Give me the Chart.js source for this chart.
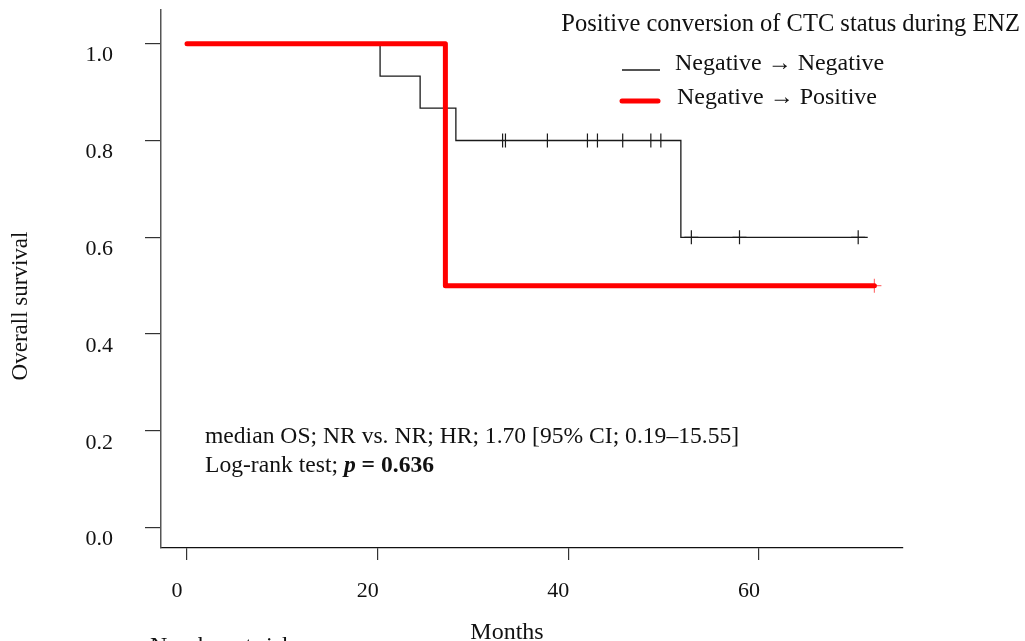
<!DOCTYPE html>
<html>
<head>
<meta charset="utf-8">
<script src="https://cdn.jsdelivr.net/npm/chart.js@4"></script>
<style>
  html, body { margin: 0; padding: 0; background: #fff; }
</style>
</head>
<body>
<canvas id="myChart" width="1025" height="641"></canvas>
<script>
// KM step points (months, survival)
const negMonths = [0, 20.25, 24.45, 28.2, 51.8, 71.4];
const negSurv = [1, 0.933, 0.867, 0.8, 0.6, 0.6];
const posMonths = [0, 27.1, 72.1];
const posSurv = [1, 0.5, 0.5];

// censored observations
const negCensorMonths = [33.1, 33.4, 37.8, 42.0, 43.05, 45.7, 48.65, 49.7, 52.9, 57.95, 70.4];
const negCensorSurv = [0.8, 0.8, 0.8, 0.8, 0.8, 0.8, 0.8, 0.8, 0.6, 0.6, 0.6];
const posCensorMonths = [72.1];
const posCensorSurv = [0.5];

const xTicks = [0, 20, 40, 60];
const yTicks = [0, 0.2, 0.4, 0.6, 0.8, 1.0];

const seriesLabels = ["Negative \u2192 Negative", "Negative \u2192 Positive"];
const legendTitle = "Positive conversion of CTC status during ENZ";
const noteLine1 = "median OS; NR vs. NR; HR; 1.70 [95% CI; 0.19\u201315.55]";
const noteLine2 = ["Log-rank test; ", "p", " = 0.636"];

const FONT = "'Liberation Serif', 'Times New Roman', serif";
const TEXT = "#111";

function pts(xs, ys) {
  return xs.map((x, i) => ({ x: x, y: ys[i] }));
}

let ctx = document.getElementById("myChart");

const extras = {
  id: "extras",
  afterDraw(chart) {
    const c = chart.ctx;
    c.save();
    c.fillStyle = TEXT;
    c.textBaseline = "middle";

    // legend
    c.font = "24.5px " + FONT;
    c.textAlign = "right";
    c.fillText(legendTitle, 1020, 25);
    c.textAlign = "left";

    c.font = "24px " + FONT;
    c.strokeStyle = chart.data.datasets[0].borderColor;
    c.lineWidth = 1.3;
    c.beginPath();
    c.moveTo(622, 70);
    c.lineTo(660, 70);
    c.stroke();
    c.fillText(seriesLabels[0], 675, 64);

    c.strokeStyle = chart.data.datasets[1].borderColor;
    c.lineWidth = 5;
    c.lineCap = "round";
    c.beginPath();
    c.moveTo(622, 101);
    c.lineTo(658, 101);
    c.stroke();
    c.fillText(seriesLabels[1], 677, 98);

    // notes
    c.font = "23.6px " + FONT;
    c.fillText(noteLine1, 205, 437);
    let x = 205;
    c.fillText(noteLine2[0], x, 466);
    x += c.measureText(noteLine2[0]).width;
    c.font = "italic bold 23.6px " + FONT;
    c.fillText(noteLine2[1], x, 466);
    x += c.measureText(noteLine2[1]).width;
    c.font = "bold 23.6px " + FONT;
    c.fillText(noteLine2[2], x, 466);

    // axis titles
    c.font = "24px " + FONT;
    c.textAlign = "center";
    c.fillText("Months", 507, 633);
    c.textAlign = "left";
    c.textBaseline = "top";
    c.fillText("Number at risk", 150, 635);

    c.font = "23px " + FONT;
    c.translate(21, 306);
    c.rotate(-Math.PI / 2);
    c.textAlign = "center";
    c.textBaseline = "middle";
    c.fillText("Overall survival", 0, 0);
    c.restore();
  }
};

let myChart = new Chart(ctx, {
  type: "scatter",
  data: {
    datasets: [
      {
        label: seriesLabels[0],
        data: pts(negMonths, negSurv),
        showLine: true,
        stepped: true,
        borderColor: "#1a1a1a",
        borderWidth: 1.3,
        pointRadius: 0,
        order: 2,
      },
      {
        label: seriesLabels[1],
        data: pts(posMonths, posSurv),
        showLine: true,
        stepped: true,
        borderColor: "#ff0000",
        borderWidth: 5,
        borderCapStyle: "round",
        borderJoinStyle: "round",
        pointRadius: 0,
        order: 0,
      },
      {
        label: "censored",
        data: pts(negCensorMonths, negCensorSurv),
        showLine: false,
        pointStyle: "cross",
        pointRadius: 7,
        borderColor: "#1a1a1a",
        borderWidth: 1.2,
        order: 1,
      },
      {
        label: "censored",
        data: pts(posCensorMonths, posCensorSurv),
        showLine: false,
        pointStyle: "cross",
        pointRadius: 7,
        borderColor: "rgba(255,60,60,0.7)",
        borderWidth: 1.2,
        order: 0,
      },
    ],
  },
  options: {
    responsive: false,
    animation: false,
    layout: { padding: { top: 10, right: 122, left: 0, bottom: 0 } },
    plugins: {
      legend: { display: false },
      tooltip: { enabled: false },
    },
    scales: {
      x: {
        type: "linear",
        min: -2.73,
        max: 75.1,
        afterBuildTicks: (s) => { s.ticks = xTicks.map((v) => ({ value: v })); },
        afterFit: (s) => { s.height = 93; s.paddingLeft = 0; s.paddingRight = 0; },
        grid: { drawOnChartArea: false, drawTicks: true, tickLength: 12, color: "#333", lineWidth: 1.2 },
        border: { display: true, color: "#111", width: 1.3 },
        ticks: {
          padding: 18,
          labelOffset: -10,
          maxRotation: 0,
          color: TEXT,
          font: { family: FONT, size: 22 },
        },
      },
      y: {
        type: "linear",
        min: -0.042,
        max: 1.0696,
        afterBuildTicks: (s) => { s.ticks = yTicks.map((v) => ({ value: v })); },
        afterFit: (s) => { s.width = 161; s.paddingTop = 0; s.paddingBottom = 0; },
        grid: { drawOnChartArea: false, drawTicks: true, tickLength: 16, color: "#333", lineWidth: 1.2 },
        border: { display: true, color: "#555", width: 1.5 },
        ticks: {
          padding: 32,
          labelOffset: 12,
          color: TEXT,
          font: { family: FONT, size: 22 },
          callback: (v) => v.toFixed(1),
        },
      },
    },
  },
  plugins: [extras],
});
</script>
</body>
</html>
